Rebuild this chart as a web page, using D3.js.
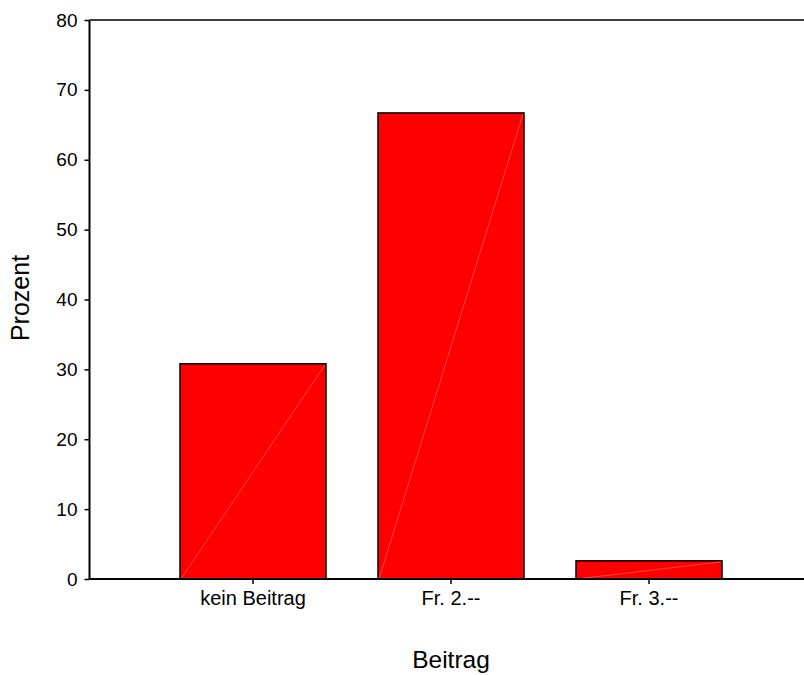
<!DOCTYPE html>
<html>
<head>
<meta charset="utf-8">
<script src="https://cdn.jsdelivr.net/npm/d3@7"></script>
<style>
html,body{margin:0;padding:0;background:#fff;}
svg{display:block;font-family:"Liberation Sans",Arial,sans-serif;}
</style>
</head>
<body>
<svg id="chart" width="804" height="675"></svg>
<script>
const categories = ["kein Beitrag", "Fr. 2.--", "Fr. 3.--"];
const values = [30.8, 66.7, 2.6];
const yTicks = [0, 10, 20, 30, 40, 50, 60, 70, 80];
const xTitle = "Beitrag";
const yTitle = "Prozent";

(function () {
const svg = d3.select("#chart");
const mLeft = 89.5, mRight = 804, mTop = 20, mBottom = 579;
const FONT = "Liberation Sans, Arial, sans-serif";

const y = d3.scaleLinear().domain([0, 80]).range([mBottom, mTop]);
const x = d3.scaleBand().domain(categories).range([154, 748]).paddingInner(0.2626).paddingOuter(0.1313);

// bars
const g = svg.append("g");
g.selectAll("rect.bar").data(values).join("rect")
  .attr("class", "bar")
  .attr("x", (d, i) => x(categories[i]))
  .attr("y", d => y(d))
  .attr("width", x.bandwidth())
  .attr("height", d => y(0) - y(d))
  .attr("fill", "#ff0000")
  .attr("stroke", "#000")
  .attr("stroke-width", 1.5);

// faint diagonal artifacts
g.selectAll("line.diag").data(values).join("line")
  .attr("class", "diag")
  .attr("x1", (d, i) => x(categories[i]) + 1)
  .attr("y1", y(0))
  .attr("x2", (d, i) => x(categories[i]) + x.bandwidth() - 1)
  .attr("y2", d => y(d) + 1)
  .attr("stroke", "#ff7777")
  .attr("stroke-width", 0.6);

// frame top line
svg.append("line").attr("x1", mLeft).attr("x2", mRight).attr("y1", y(80)).attr("y2", y(80))
  .attr("stroke", "#000").attr("stroke-width", 1.5);

// y axis
const yAxis = d3.axisLeft(y).tickValues(yTicks).tickSize(5).tickPadding(7).tickFormat(d3.format("d"));
const ya = svg.append("g").attr("transform", `translate(${mLeft},0)`).call(yAxis)
  .attr("font-size", 19).attr("font-family", FONT);
ya.select(".domain").attr("d", `M0,${mBottom}V${mTop}`).attr("stroke-width", 2);
ya.selectAll(".tick line").attr("stroke-width", 1.5);
ya.selectAll(".tick text").attr("fill", "#000");

// x axis
const xAxis = d3.axisBottom(x).tickSize(5).tickPadding(7);
const xa = svg.append("g").attr("transform", `translate(0,${mBottom})`).call(xAxis)
  .attr("font-size", 20).attr("font-family", FONT);
xa.select(".domain").attr("d", `M${mLeft},0H${mRight}`).attr("stroke-width", 2);
xa.selectAll(".tick line").attr("stroke-width", 1.5);
xa.selectAll(".tick text").attr("fill", "#000");

// titles
svg.append("text").attr("x", 451).attr("y", 668).attr("text-anchor", "middle")
  .attr("font-size", 24.5).attr("font-family", FONT).text(xTitle);
svg.append("text").attr("transform", `translate(29,298) rotate(-90)`).attr("text-anchor", "middle")
  .attr("font-size", 25).attr("font-family", FONT).text(yTitle);
})();
</script>
</body>
</html>
